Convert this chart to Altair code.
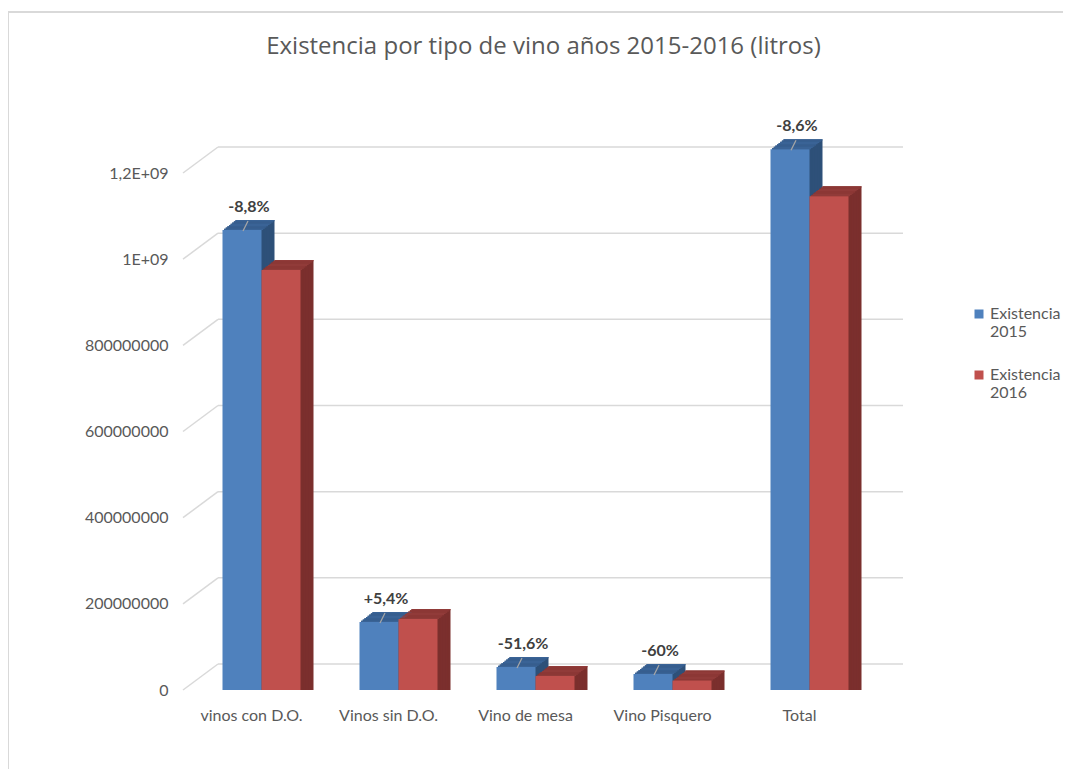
import altair as alt
import pandas as pd

categories = ["vinos con D.O.", "Vinos sin D.O.", "Vino de mesa", "Vino Pisquero", "Total"]
series = ["Existencia 2015", "Existencia 2016"]
v2015 = [1056000000, 146000000, 41800000, 25500000, 1243600000]
v2016 = [963000000, 153000000, 20900000, 10200000, 1134600000]
changes = ["-8,8%", "+5,4%", "-51,6%", "-60%", "-8,6%"]
tick_values = [0, 200000000, 400000000, 600000000, 800000000, 1000000000, 1200000000]
tick_labels = ["0", "200000000", "400000000", "600000000", "800000000", "1E+09", "1,2E+09"]
title_text = "Existencia por tipo de vino años 2015-2016 (litros)"

front_colors = ["#4F81BD", "#C0504D"]
top_colors = ["#3A6396", "#913B39"]
side_colors = ["#2E5079", "#7B2F2D"]

FONT = "Lato"
TXT = "#595959"
GRID = "#D9D9D9"
W, H = 685, 517
DX, DY = 35, 26          # back wall offset
BX, BY = 10, 5           # bar depth position
SX, SY = 13, 10          # bar extrusion
NSTEP = 8
BW = 39                  # bar width
offs = [-BW / 2, BW / 2]

rows = []
for i, c in enumerate(categories):
    rows.append({"cat": c, "series": series[0], "v": v2015[i], "label": changes[i]})
    rows.append({"cat": c, "series": series[1], "v": v2016[i], "label": ""})
df = pd.DataFrame(rows)
grid_df = pd.DataFrame({"g": tick_values})

label_expr = " : ".join(
    f"datum.value == {v} ? '{t}'" for v, t in zip(tick_values, tick_labels)) + " : ''"

x = alt.X("cat:N", sort=categories,
          scale=alt.Scale(paddingInner=0.433, paddingOuter=0.2165),
          axis=alt.Axis(title=None, domain=False, ticks=False, labelAngle=0,
                        labelPadding=17, labelFontSize=16, labelColor=TXT, labelFont=FONT))
yscale = alt.Scale(domain=[0, 1200000000], nice=False, zero=True)
yaxis = alt.Axis(title=None, values=tick_values, labelExpr=label_expr, grid=False,
                 domain=False, ticks=False, labelPadding=15, labelFontSize=16,
                 labelColor=TXT, labelFont=FONT)
y = alt.Y("v:Q", stack=None, scale=yscale, axis=yaxis)

base = alt.Chart(df)

sides, tops, fronts = [], [], []
for i, s in enumerate(series):
    b = base.transform_filter(alt.datum.series == s)
    # extruded side: copies of the bar pushed back step by step
    for k in range(NSTEP, 0, -1):
        ddx, ddy = SX * k / NSTEP, SY * k / NSTEP
        sides.append(b.mark_bar(size=BW, xOffset=offs[i] + BX + ddx, yOffset=-BY - ddy,
                                y2Offset=-BY - ddy, color=side_colors[i]).encode(x=x, y=y))
    # top face: thin strips stepping back
    for k in range(1, NSTEP + 1):
        ddx = SX * k / NSTEP
        tops.append(b.mark_bar(size=BW, xOffset=offs[i] + BX + ddx,
                               yOffset=-BY - SY * (k - 1) / NSTEP,
                               y2Offset=-BY - SY * k / NSTEP, color=top_colors[i]).encode(
            x=x, y=y, y2=alt.Y2("v:Q")))
    fronts.append(b.mark_bar(size=BW, xOffset=offs[i] + BX, yOffset=-BY, y2Offset=-BY).encode(
        x=x, y=y,
        color=alt.Color("series:N", sort=series,
                        scale=alt.Scale(domain=series, range=front_colors),
                        legend=alt.Legend(title=None, orient="none", legendX=788, legendY=133,
                                          symbolType="square", symbolSize=81, symbolStrokeWidth=0,
                                          labelFontSize=16, labelColor=TXT, labelFont=FONT,
                                          labelExpr="split(datum.label, ' ')", labelBaseline="middle",
                                          labelOffset=3, rowPadding=27, padding=0))))

lab = base.transform_filter("datum.label != ''")
leaders = lab.mark_rule(color="#A6A6A6", strokeWidth=1.2,
                        xOffset=offs[0] + BX + 1, x2Offset=offs[0] + BX + 6,
                        yOffset=-BY + 1, y2Offset=-BY - 9).encode(
    x=x, x2=alt.X2("cat:N"), y=y, y2=alt.Y2("v:Q"))
labels = lab.mark_text(font=FONT, fontSize=16, fontWeight="bold", color="#404040",
                       dx=offs[0] + BX + 7, dy=-BY - 23, baseline="middle").encode(
    x=x, y=y, text="label:N")

grid_back = alt.Chart(grid_df).mark_rule(color=GRID, strokeWidth=1.5, yOffset=-DY).encode(
    x=alt.value(DX), x2=alt.value(W + DX), y=alt.Y("g:Q", scale=yscale, axis=yaxis))
grid_diag = alt.Chart(grid_df).mark_rule(color=GRID, strokeWidth=1.5, y2Offset=-DY).encode(
    x=alt.value(0), x2=alt.value(DX), y=alt.Y("g:Q", scale=yscale, axis=yaxis), y2=alt.Y2("g:Q"))

dummy = alt.Chart(pd.DataFrame({"a": [0]}))
border_v = dummy.mark_rule(color=GRID, strokeWidth=2).encode(
    x=alt.value(-175), y=alt.value(-161), y2=alt.value(H + 90))
border_h = dummy.mark_rule(color=GRID, strokeWidth=2).encode(
    x=alt.value(-175), x2=alt.value(W + 200), y=alt.value(-161))
title = dummy.mark_text(font="Open Sans", fontSize=24, color=TXT, align="center",
                        baseline="middle").encode(
    x=alt.value(W / 2 + 18), y=alt.value(-126), text=alt.value(title_text))

chart = alt.layer(border_v, border_h, title, grid_diag, grid_back, *sides, *tops, *fronts,
                  leaders, labels).properties(
    width=W, height=H,
    padding={"left": 175, "top": 165, "right": 195, "bottom": 79},
    autosize=alt.AutoSizeParams(type="none"),
).configure_view(stroke=None)

chart.save("out.html", embed_options={"renderer": "svg", "actions": False})
